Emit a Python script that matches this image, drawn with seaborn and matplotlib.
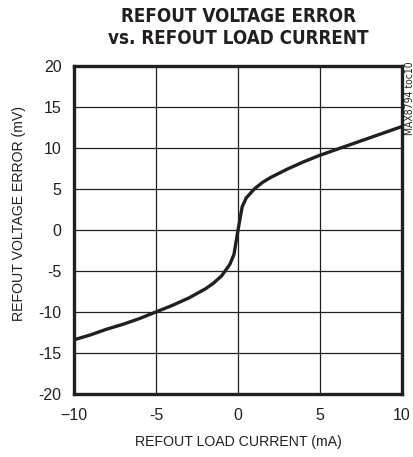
import matplotlib
matplotlib.use("Agg")
import matplotlib.pyplot as plt
import seaborn as sns
import pandas as pd

current_ma = [-10, -9, -8, -7, -6, -5, -4, -3, -2, -1.5, -1, -0.5, -0.25, 0,
              0.25, 0.5, 1, 1.5, 2, 3, 4, 5, 6, 7, 8, 9, 10]
error_mv = [-13.4, -12.8, -12.1, -11.5, -10.8, -10.0, -9.2, -8.3, -7.2, -6.5,
            -5.6, -4.2, -3.0, 0.0, 2.8, 3.9, 5.0, 5.8, 6.4, 7.4, 8.3, 9.1,
            9.8, 10.5, 11.2, 11.9, 12.6]
x_ticks = [-10, -5, 0, 5, 10]
x_tick_labels = ["\u221210", "-5", "0", "5", "10"]
y_ticks = [-20, -15, -10, -5, 0, 5, 10, 15, 20]
y_tick_labels = ["-20", "-15", "-10", "-5", "0", "5", "10", "15", "20"]

sns.set_style("white")
plt.rcParams['font.family'] = ['Liberation Sans', 'DejaVu Sans']

df = pd.DataFrame({"current": current_ma, "error": error_mv})

fig = plt.figure(figsize=(4.14, 4.57), dpi=100)
ax = fig.add_axes([0.179, 0.138, 0.792, 0.718])
sns.lineplot(data=df, x="current", y="error", ax=ax, color="#231f20",
             linewidth=2.4, estimator=None)

ax.set_xlim(-10, 10)
ax.set_ylim(-20, 20)
ax.set_xticks(x_ticks)
ax.set_xticklabels(x_tick_labels, fontsize=11.5, color="#231f20")
ax.set_yticks(y_ticks)
ax.set_yticklabels(y_tick_labels, fontsize=11.5, color="#231f20")
ax.tick_params(axis="y", length=0, pad=9)
ax.tick_params(axis="x", length=0, pad=10)
ax.grid(True, color="#231f20", linewidth=0.9)
for s in ax.spines.values():
    s.set_linewidth(2.4)
    s.set_color("#231f20")
ax.set_xlabel("REFOUT LOAD CURRENT (mA)", fontsize=10.2, color="#231f20", labelpad=9)
ax.set_ylabel("REFOUT VOLTAGE ERROR (mV)", fontsize=10.2, color="#231f20")
ax.yaxis.set_label_coords(-0.146, 0.549)

fig.text(0.575, 0.985, "REFOUT VOLTAGE ERROR\nvs. REFOUT LOAD CURRENT",
         ha="center", va="top", fontsize=13.5, fontweight="bold",
         family="DejaVu Sans", fontstretch="condensed",
         color="#231f20", linespacing=1.2)
fig.text(0.99, 0.865, "MAX8794 toc10", rotation=90, ha="center", va="top",
         fontsize=7.5, family="DejaVu Sans", fontstretch="condensed",
         color="#231f20")

fig.savefig("out.png", dpi=100)
